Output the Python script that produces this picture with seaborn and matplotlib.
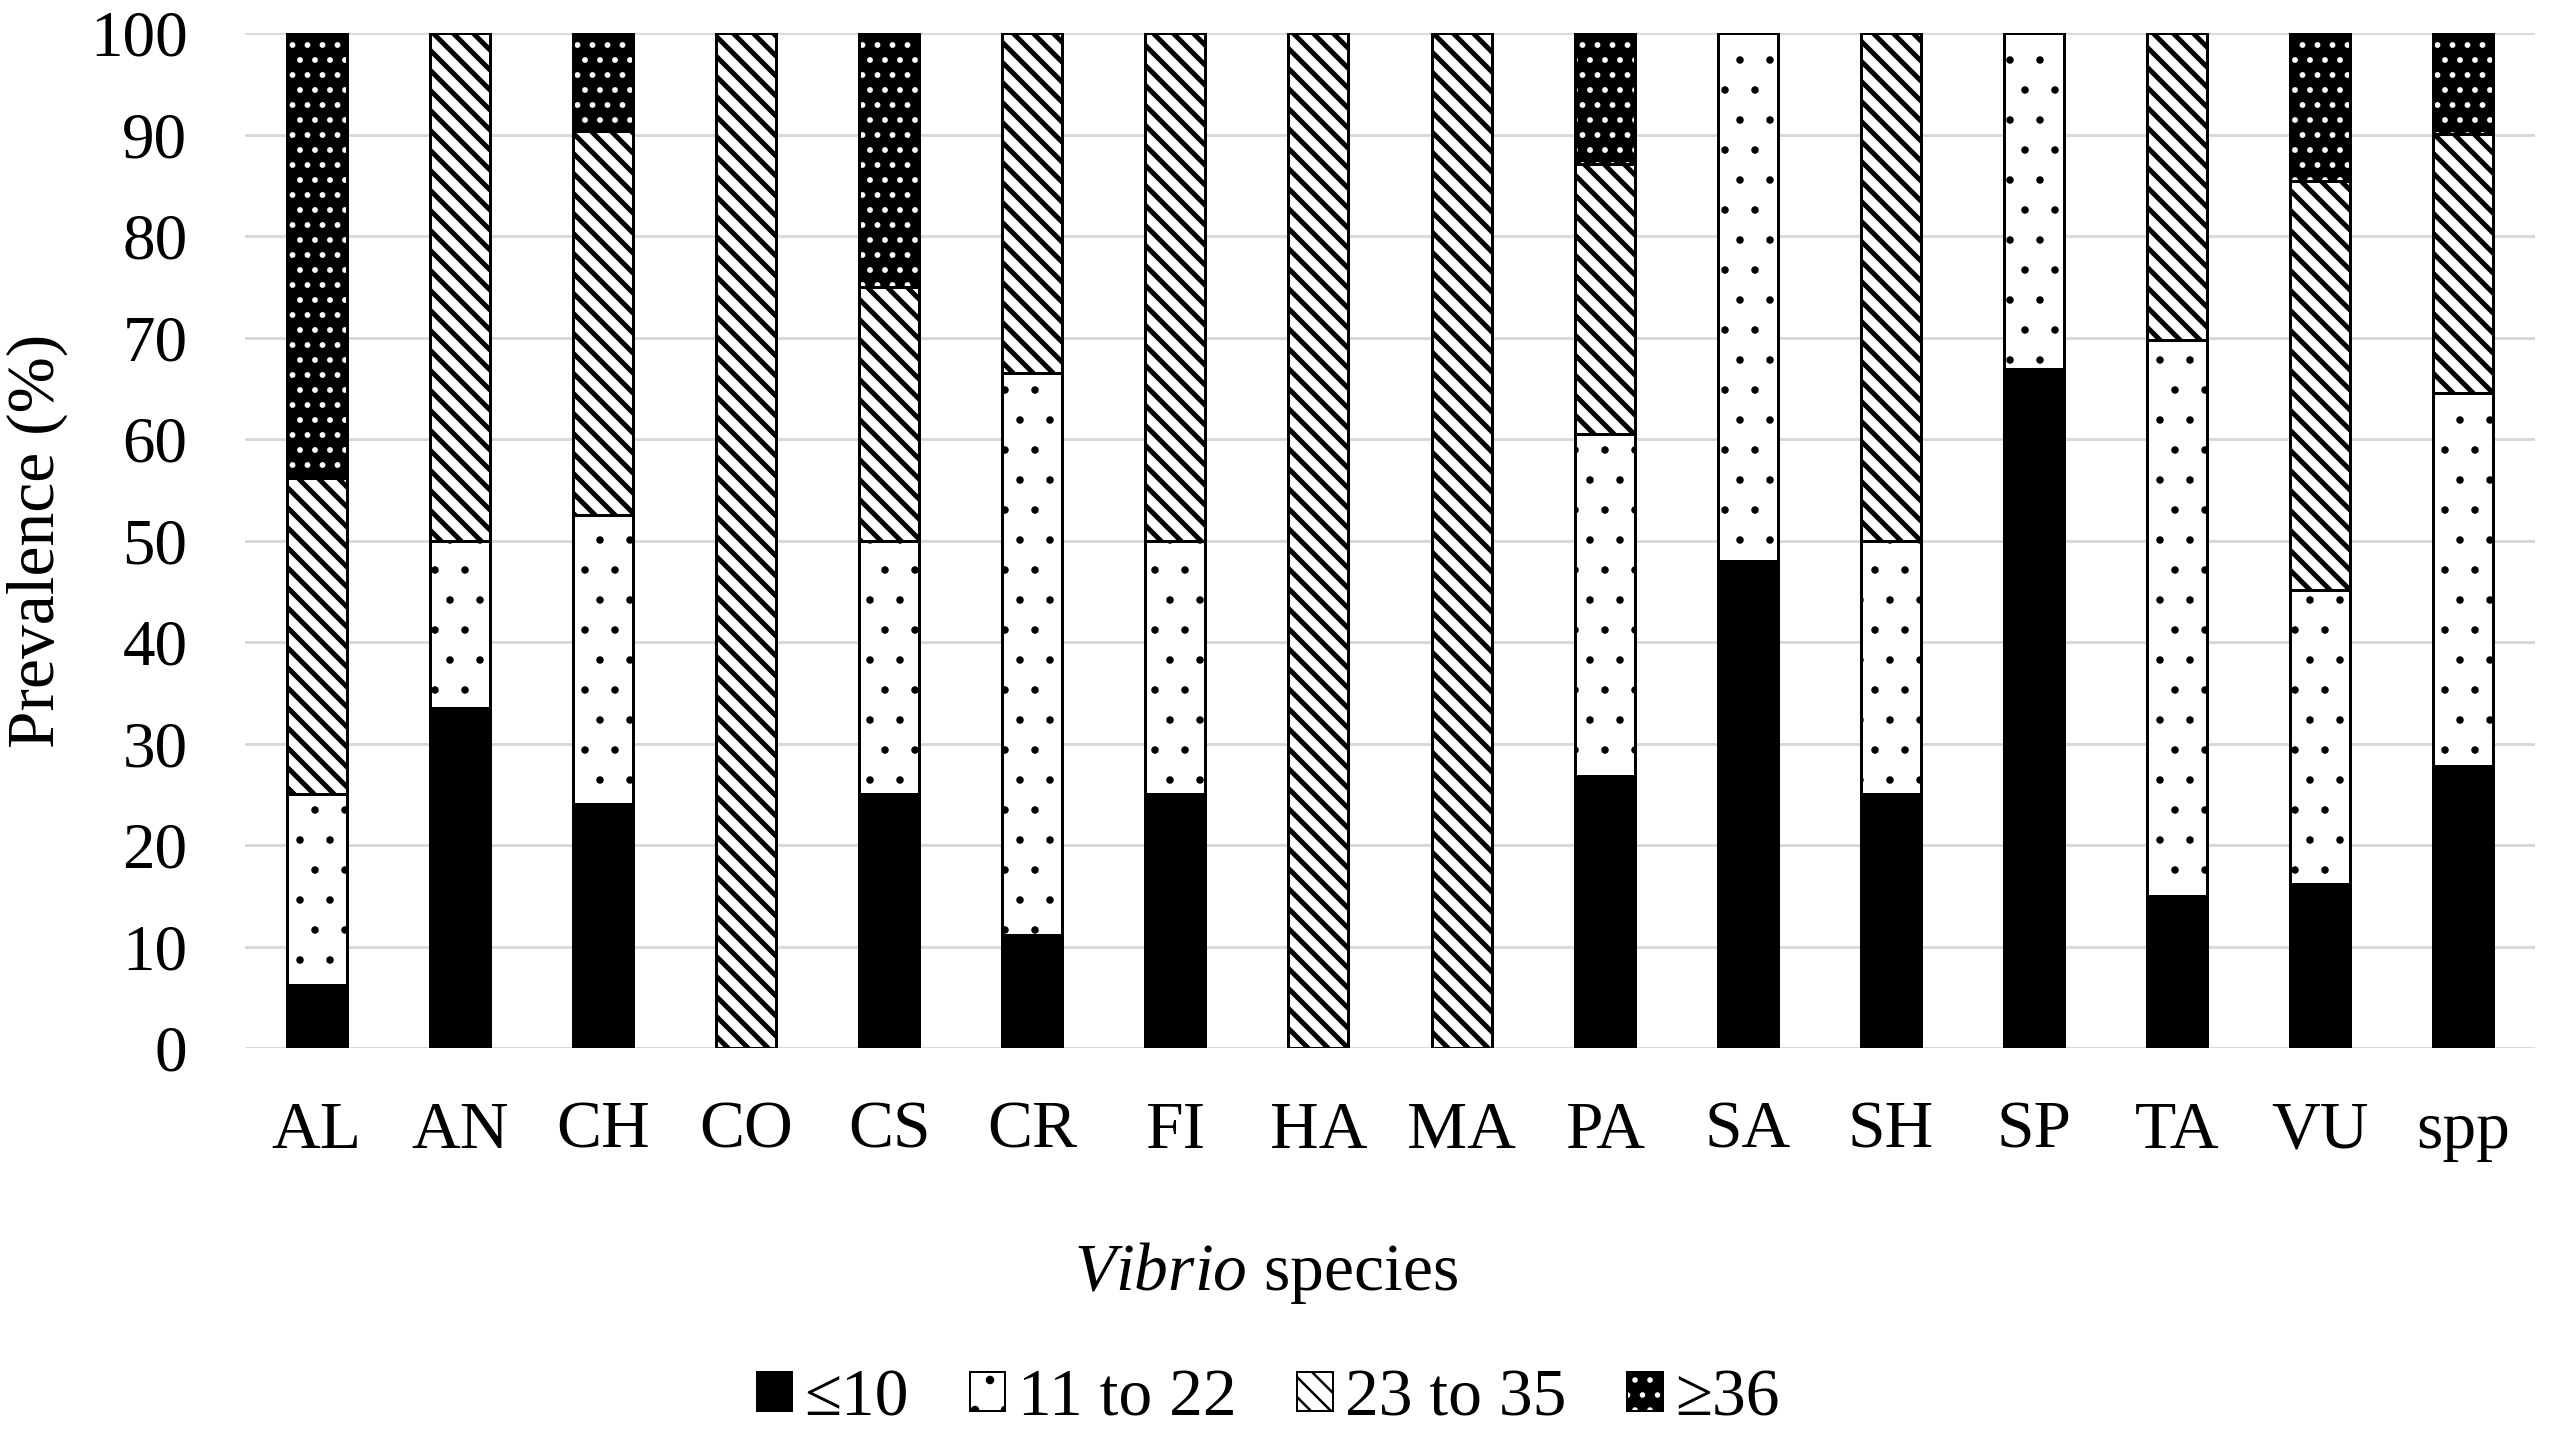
import matplotlib
matplotlib.use("Agg")
import matplotlib.pyplot as plt
import seaborn as sns
import numpy as np
from matplotlib.patches import Patch

# ---------------- data ----------------
categories = ["AL", "AN", "CH", "CO", "CS", "CR", "FI", "HA", "MA",
              "PA", "SA", "SH", "SP", "TA", "VU", "spp"]
le10 = [6.2, 33.5, 24.0, 0, 25.0, 11.1, 25.0, 0, 0, 26.8, 48.0, 25.0, 66.9, 15.0, 16.2, 27.8]
r11_22 = [18.8, 16.5, 28.5, 0, 25.0, 55.4, 25.0, 0, 0, 33.7, 52.0, 25.0, 33.1, 54.8, 28.9, 36.7]
r23_35 = [31.2, 50.0, 37.8, 100, 25.0, 33.5, 50.0, 100, 100, 26.6, 0, 50.0, 0, 30.2, 40.3, 25.5]
ge36 = [43.8, 0, 9.7, 0, 25.0, 0, 0, 0, 0, 12.9, 0, 0, 0, 0, 14.6, 10.0]
legend_labels = ["\u226410", "11 to 22", "23 to 35", "\u226536"]
y_ticks = [0, 10, 20, 30, 40, 50, 60, 70, 80, 90, 100]
y_label = "Prevalence (%)"
x_label = r"$\mathit{Vibrio}$ species"

# ---------------- style ----------------
sns.set_theme(style="white")
plt.rcParams['font.family'] = ['Liberation Serif', 'DejaVu Serif']
plt.rcParams['mathtext.fontset'] = 'custom'
plt.rcParams['mathtext.rm'] = 'Liberation Serif'
plt.rcParams['mathtext.it'] = 'Liberation Serif:italic'
plt.rcParams['text.color'] = 'black'

DPI = 180
W, H = 2559, 1438
FS = 27
FS_Y = 26

fig = plt.figure(figsize=(W / DPI, H / DPI), dpi=DPI)
fig.patch.set_facecolor('white')
ax = fig.add_axes([245 / W, 1 - 1048 / H, 2290 / W, 1015 / H])

BAR_W = 0.42
EDGE_LW = 1.2

le = np.array(le10, dtype=float)
mid = np.array(r11_22, dtype=float)
hi = np.array(r23_35, dtype=float)
top = np.array(ge36, dtype=float)
bottoms = {
    "le10": np.zeros(len(categories)),
    "r11_22": le,
    "r23_35": le + mid,
    "ge36": le + mid + hi,
}
totals = le + mid + hi + top

layers = [
    # name, values, face, edge, hatch, line width, hatch line width
    ("ge36", top, "black", "white", "..", 0.4, 1.1),
    ("le10", le, "black", "black", None, EDGE_LW, 1.0),
    ("r11_22", mid, "white", "black", ".", EDGE_LW, 0.6),
    ("r23_35", hi, "white", "black", "\\\\\\", EDGE_LW, 2.0),
]


def draw_layer(values, bottom, face, edge, hatch, lw, hlw):
    n_before = len(ax.patches)
    with plt.rc_context({'hatch.linewidth': hlw}):
        kw = dict(facecolor=face, edgecolor=edge, linewidth=lw)
        if hatch:
            kw["hatch"] = hatch
        sns.barplot(x=categories, y=values, order=categories, bottom=bottom,
                    color=face, saturation=1, width=BAR_W, errorbar=None,
                    ax=ax, zorder=3, **kw)
    for p in ax.patches[n_before:]:
        if hasattr(p, "set_hatch_linewidth"):
            p.set_hatch_linewidth(hlw)


for name, vals, face, edge, hatch, lw, hlw in layers:
    draw_layer(vals, bottoms[name], face, edge, hatch, lw, hlw)

# outline of whole stacked bar
sns.barplot(x=categories, y=totals, order=categories, width=BAR_W, errorbar=None,
            color="black", saturation=1, ax=ax, facecolor="none",
            edgecolor="black", linewidth=EDGE_LW, zorder=4)

# ---------------- axes ----------------
ax.set_ylim(0, 100)
ax.set_xlim(-0.5, len(categories) - 0.5)
ax.set_yticks(y_ticks)
ax.set_yticklabels([str(t) for t in y_ticks])
ax.set_axisbelow(True)
ax.yaxis.grid(True, color="#d9d9d9", linewidth=1.2)
ax.xaxis.grid(False)
for s in ax.spines.values():
    s.set_visible(False)
ax.tick_params(axis='x', length=0, labelsize=FS, pad=21, colors='black')
ax.tick_params(axis='y', length=0, labelsize=FS_Y, pad=23, colors='black')

ax.set_ylabel(y_label, fontsize=FS, va='center', color='black')
ax.yaxis.set_label_coords((37 - 245) / 2290, 0.5)
ax.set_xlabel(x_label, fontsize=FS, va='baseline', color='black')
ax.xaxis.set_label_coords((1266 - 245) / 2290, (1048 - 1290) / 1015)

# ---------------- legend ----------------
handles = [
    Patch(facecolor="black", edgecolor="black", linewidth=0.8),
    Patch(facecolor="white", edgecolor="black", hatch=".", linewidth=0.8),
    Patch(facecolor="white", edgecolor="black", hatch="\\\\\\", linewidth=0.8),
    (Patch(facecolor="black", edgecolor="white", hatch="..", linewidth=0.3),
     Patch(facecolor="none", edgecolor="black", linewidth=0.8)),
]
fig.legend(handles, legend_labels, loc="center",
           bbox_to_anchor=(1268 / W, 1 - 1399 / H), ncol=4, frameon=False,
           fontsize=FS, handlelength=0.53, handleheight=0.53,
           handletextpad=0.18, columnspacing=0.9, borderpad=0, borderaxespad=0)

fig.savefig("out.png", dpi=DPI, facecolor="white")
